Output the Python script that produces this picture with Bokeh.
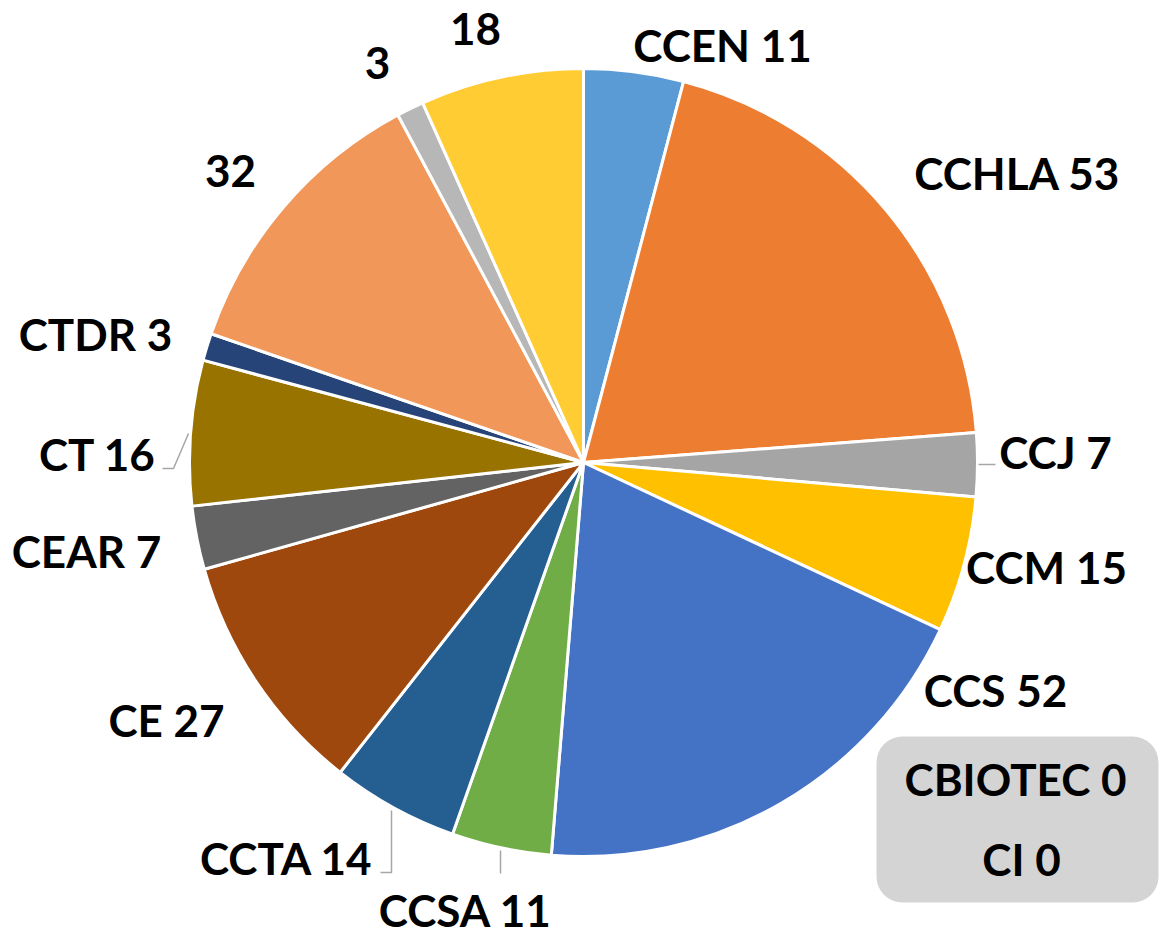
import math
from bokeh.plotting import figure
from bokeh.models import Range1d, ColumnDataSource, BoxAnnotation
from bokeh.core.properties import value
from bokeh.embed import file_html
from bokeh.resources import INLINE

# ---- data ----
categories = ["CCEN", "CCHLA", "CCJ", "CCM", "CCS", "CCSA", "CCTA", "CE",
              "CEAR", "CT", "CTDR", "", "", ""]
counts = [11, 53, 7, 15, 52, 11, 14, 27, 7, 16, 3, 32, 3, 18]
colors = ["#5B9BD5", "#ED7D31", "#A5A5A5", "#FFC000", "#4472C4", "#70AD47",
          "#255E91", "#9E480E", "#636363", "#997300", "#264478", "#F1975A",
          "#B7B7B7", "#FFCD33"]
zero_categories = ["CBIOTEC", "CI"]
zero_counts = [0, 0]

# ---- layout (screen pixel coordinates; y flipped into data space) ----
W, H = 1160, 936
cx, cy_scr, R = 583, 462, 394

label_pos = [(722, 44), (1017, 172), (1055, 451), (1046, 566), (995, 689),
             (465, 909), (286, 857), (166, 719), (86, 550), (97, 453),
             (95, 333), (230, 170), (377, 62), (475, 28)]
zero_label_pos = [(1015, 778), (1021, 858)]


def yy(v):
    return H - v


total = sum(counts)
starts, ends = [], []
acc = 0.0
for c in counts:
    a0 = math.pi / 2 - 2 * math.pi * acc / total
    acc += c
    a1 = math.pi / 2 - 2 * math.pi * acc / total
    starts.append(a0)
    ends.append(a1)

p = figure(width=W, height=H, output_backend="svg", toolbar_location=None,
           x_range=Range1d(0, W), y_range=Range1d(0, H), min_border=0)
p.axis.visible = False
p.grid.visible = False
p.outline_line_color = None
p.background_fill_color = "white"

src = ColumnDataSource(dict(start=starts, end=ends, color=colors))
p.wedge(x=cx, y=yy(cy_scr), radius=R, start_angle="start", end_angle="end",
        direction="clock", fill_color="color", line_color="white",
        line_width=3, source=src)

lead = "#A6A6A6"
p.line([978, 995], [yy(464), yy(464)], line_color=lead, line_width=1.5)
p.line([162, 173, 188], [yy(468), yy(468), yy(433)], line_color=lead, line_width=1.5)
p.line([380, 391, 391], [yy(872), yy(872), yy(810)], line_color=lead, line_width=1.5)
p.line([500, 500], [yy(850), yy(873)], line_color=lead, line_width=1.5)

box = BoxAnnotation(left=876, right=1158, top=yy(736), bottom=yy(902),
                    fill_color="#D4D4D4", fill_alpha=1.0, line_color=None,
                    border_radius=26, level="underlay")
p.add_layout(box)

texts = [(f"{n} {v}" if n else f"{v}") for n, v in zip(categories, counts)]
texts += [f"{n} {v}" for n, v in zip(zero_categories, zero_counts)]
pos = label_pos + zero_label_pos
lsrc = ColumnDataSource(dict(x=[q[0] for q in pos], y=[yy(q[1]) for q in pos], t=texts))
p.text(x="x", y="y", text="t", source=lsrc, text_align="center",
       text_baseline="middle", text_font=value("Lato"), text_font_style="bold",
       text_font_size="44px", text_color="black")

open("out.html", "w").write(file_html(p, INLINE))
